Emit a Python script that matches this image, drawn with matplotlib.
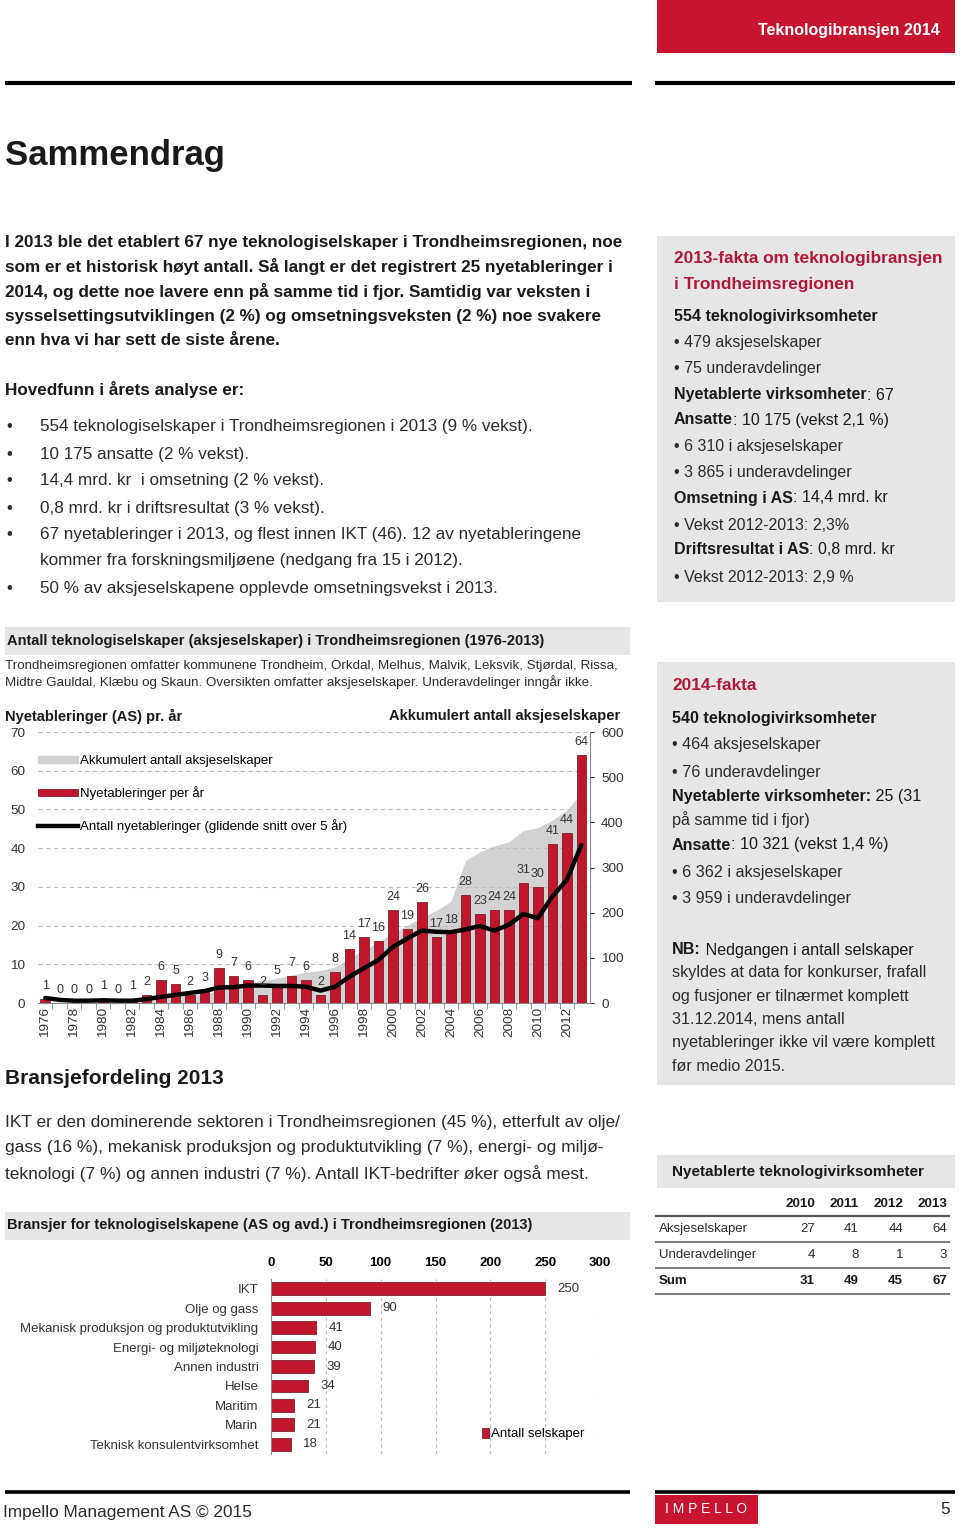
import matplotlib
matplotlib.use("Agg")
import matplotlib.pyplot as plt
from matplotlib.patches import Rectangle, Patch
from matplotlib.lines import Line2D

plt.rcParams["font.family"] = ["Liberation Sans", "DejaVu Sans"]

# --- data -------------------------------------------------------------
years = list(range(1976, 2014))
new_as = [1, 0, 0, 0, 1, 0, 1, 2, 6, 5, 2, 3, 9, 7, 6, 2, 5, 7, 6, 2,
          8, 14, 17, 16, 24, 19, 26, 17, 18, 28, 23, 24, 24, 31, 30, 41, 44, 64]
accumulated = [1, 1, 1, 1, 2, 2, 3, 5, 11, 15, 17, 20, 28, 38, 45, 50, 55, 62, 68, 72,
               80, 100, 117, 135, 155, 172, 190, 205, 225, 315, 335, 348, 357, 382, 388, 405, 427, 464]
moving_avg = [1.3, 0.8, 0.6, 0.6, 0.7, 0.6, 0.6, 1.0, 1.6, 2.1, 2.6, 3.1, 4.0, 4.1, 4.5, 4.5, 4.4, 4.4, 4.2, 3.2,
              4.2, 6.8, 9.0, 11.1, 14.5, 16.7, 18.7, 18.4, 18.3, 19.0, 19.9, 18.7, 20.2, 23.0, 21.9, 27.5, 31.8, 40.8]

sectors = ["IKT", "Olje og gass", "Mekanisk produksjon og produktutvikling",
           "Energi- og miljøteknologi", "Annen industri", "Helse", "Maritim", "Marin",
           "Teknisk konsulentvirksomhet"]
sector_counts = [250, 90, 41, 40, 39, 34, 21, 21, 18]

table_years = ["2010", "2011", "2012", "2013"]
table_rows = ["Aksjeselskaper", "Underavdelinger", "Sum"]
table_as = [27, 41, 44, 64]
table_avd = [4, 8, 1, 3]
table_sum = [31, 49, 45, 67]

W, H = 960, 1531
RED = "#c0172f"
HEAD_RED = "#c8142f"
TXT_RED = "#b0183a"
GREY_BOX = "#e6e6e6"
TXT = "#1a1a1a"
LIGHT = "#2b2b2b"

fig = plt.figure(figsize=(W / 100, H / 100), dpi=100)
bg = fig.add_axes([0, 0, 1, 1])
bg.set_xlim(0, W)
bg.set_ylim(H, 0)
bg.axis("off")
renderer = fig.canvas.get_renderer()


def box(x0, y0, x1, y1, color):
    bg.add_patch(Rectangle((x0, y0), x1 - x0, y1 - y0, color=color, lw=0, zorder=0))


def hline(x0, x1, y, lw, color="black"):
    bg.plot([x0, x1], [y, y], color=color, lw=lw, solid_capstyle="butt")


def text(x, y, s, size, bold=False, color=TXT, **kw):
    return bg.text(x, y, s, fontsize=size, fontweight="bold" if bold else "normal",
                   color=color, va="center", **kw)


def mixed(x, y, parts, size, color=TXT):
    # parts: (string, bold) pieces written one after another on a line
    for s, bold in parts:
        t = text(x, y, s, size, bold, color)
        x += t.get_window_extent(renderer=renderer).width


def px_axes(x0, y0, x1, y1):
    return fig.add_axes([x0 / W, 1 - y1 / H, (x1 - x0) / W, (y1 - y0) / H])


# --- page furniture ---------------------------------------------------
box(657, 0, 955, 53, HEAD_RED)
text(940, 31, "Teknologibransjen 2014", 11.5, True, "white", ha="right")
hline(5, 632, 83, 3)
hline(655, 955, 83, 3)

text(5, 155, "Sammendrag", 25, True)

intro = ["I 2013 ble det etablert 67 nye teknologiselskaper i Trondheimsregionen, noe",
         "som er et historisk høyt antall. Så langt er det registrert 25 nyetableringer i",
         "2014, og dette noe lavere enn på samme tid i fjor. Samtidig var veksten i",
         "sysselsettingsutviklingen (2 %) og omsetningsveksten (2 %) noe svakere",
         "enn hva vi har sett de siste årene."]
for i, s in enumerate(intro):
    text(5, 242 + i * 24.7, s, 12.3, True)

text(5, 389, "Hovedfunn i årets analyse er:", 12.3, True)
bullets = [(427, "554 teknologiselskaper i Trondheimsregionen i 2013 (9 % vekst).", True),
           (454, "10 175 ansatte (2 % vekst).", True),
           (481, "14,4 mrd. kr  i omsetning (2 % vekst).", True),
           (508, "0,8 mrd. kr i driftsresultat (3 % vekst).", True),
           (535, "67 nyetableringer i 2013, og flest innen IKT (46). 12 av nyetableringene", True),
           (561, "kommer fra forskningsmiljøene (nedgang fra 15 i 2012).", False),
           (588, "50 % av aksjeselskapene opplevde omsetningsvekst i 2013.", True)]
for y, s, dot in bullets:
    if dot:
        text(6, y, "•", 12, color=LIGHT)
    text(40, y, s, 12.35, color=LIGHT)

# 2013 facts box
box(657, 236, 955, 602, GREY_BOX)
text(674, 259, "2013-fakta om teknologibransjen", 12.4, True, TXT_RED)
text(674, 284, "i Trondheimsregionen", 12.4, True, TXT_RED)
fs = 11.5
text(674, 317, "554 teknologivirksomheter", fs, True)
text(674, 343, "• 479 aksjeselskaper", fs, color=LIGHT)
text(674, 369, "• 75 underavdelinger", fs, color=LIGHT)
mixed(674, 395, [("Nyetablerte virksomheter", True), (": 67", False)], fs)
mixed(674, 420, [("Ansatte", True), (": 10 175 (vekst 2,1 %)", False)], fs)
text(674, 447, "• 6 310 i aksjeselskaper", fs, color=LIGHT)
text(674, 473, "• 3 865 i underavdelinger", fs, color=LIGHT)
mixed(674, 498, [("Omsetning i AS", True), (": 14,4 mrd. kr", False)], fs)
text(674, 525, "• Vekst 2012-2013: 2,3%", fs, color=LIGHT)
mixed(674, 550, [("Driftsresultat i AS", True), (": 0,8 mrd. kr", False)], fs)
text(674, 577, "• Vekst 2012-2013: 2,9 %", fs, color=LIGHT)

# 2014 facts box
box(657, 662, 955, 1085, GREY_BOX)
text(672, 686, "2014-fakta", 12.4, True, TXT_RED)
fs = 11.6
text(672, 719, "540 teknologivirksomheter", fs, True)
text(672, 745, "• 464 aksjeselskaper", fs, color=LIGHT)
text(672, 772, "• 76 underavdelinger", fs, color=LIGHT)
mixed(672, 797, [("Nyetablerte virksomheter:", True), (" 25 (31", False)], fs)
text(672, 820, "på samme tid i fjor)", fs, color=LIGHT)
mixed(672, 845, [("Ansatte", True), (": 10 321 (vekst 1,4 %)", False)], fs)
text(672, 872, "• 6 362 i aksjeselskaper", fs, color=LIGHT)
text(672, 898, "• 3 959 i underavdelinger", fs, color=LIGHT)
mixed(672, 950, [("NB:", True), (" Nedgangen i antall selskaper", False)], fs)
nb = ["skyldes at data for konkurser, frafall", "og fusjoner er tilnærmet komplett",
      "31.12.2014, mens antall", "nyetableringer ikke vil være komplett", "før medio 2015."]
for i, s in enumerate(nb):
    text(672, 973 + i * 23.3, s, fs, color=LIGHT)

# chart 1 header
box(5, 627, 630, 655, GREY_BOX)
text(7, 641, "Antall teknologiselskaper (aksjeselskaper) i Trondheimsregionen (1976-2013)", 10.5, True)
text(5, 666, "Trondheimsregionen omfatter kommunene Trondheim, Orkdal, Melhus, Malvik, Leksvik, Stjørdal, Rissa,", 9.65, color=LIGHT)
text(5, 682, "Midtre Gauldal, Klæbu og Skaun. Oversikten omfatter aksjeselskaper. Underavdelinger inngår ikke.", 9.65, color=LIGHT)
text(5, 716, "Nyetableringer (AS) pr. år", 10.5, True)
text(620, 716, "Akkumulert antall aksjeselskaper", 10.5, True, ha="right")

# --- chart 1 ----------------------------------------------------------
ax = px_axes(38, 732, 590, 1003)
ax2 = ax.twinx()
ax.set_zorder(ax2.get_zorder() + 1)
ax.patch.set_visible(False)

ax2.fill_between(years, accumulated, color="#d2d2d2", lw=0)
ax2.set_ylim(0, 600)
ax2.set_yticks(range(0, 601, 100))
ax2.tick_params(axis="y", length=3, pad=5, labelsize=9.7, colors="#333333")
for side in ["top", "left", "bottom"]:
    ax2.spines[side].set_visible(False)
ax2.spines["right"].set_color("#8a8a8a")

ax.bar(years, new_as, width=0.66, color=RED, edgecolor="#6a0c18", lw=0.5)
ax.plot(years, moving_avg, color="black", lw=3.2, solid_joinstyle="round", solid_capstyle="round")
for yr, v in zip(years, new_as):
    ax.annotate(str(v), (yr, v), xytext=(0, 5), textcoords="offset points",
                ha="center", va="bottom", fontsize=9, color="#333333")

ax.set_xlim(1975.5, 2013.6)
ax.set_ylim(0, 70)
ax.set_yticks(range(0, 71, 10))
ax.yaxis.grid(True, ls=(0, (4, 3)), color="#bdbdbd", lw=0.8)
ax.set_axisbelow(True)
ax.tick_params(axis="y", length=0, pad=9, labelsize=9.7, labelcolor="#333333")
ax.set_xticks(years[::2])
ax.set_xticklabels([str(y) for y in years[::2]], rotation=90)
ax.set_xticks([y + 0.5 for y in years[:-1]], minor=True)
ax.tick_params(axis="x", which="major", length=0, pad=3, labelsize=9.7, labelcolor="#333333")
ax.tick_params(axis="x", which="minor", length=4, color="#8a8a8a")
for side in ["top", "left", "right"]:
    ax.spines[side].set_visible(False)
ax.spines["bottom"].set_color("#8a8a8a")

handles = [Patch(color="#d2d2d2"), Patch(facecolor=RED, edgecolor="#6a0c18", lw=0.5),
           Line2D([], [], color="black", lw=3.2)]
labels = ["Akkumulert antall aksjeselskaper", "Nyetableringer per år",
          "Antall nyetableringer (glidende snitt over 5 år)"]
ax.legend(handles, labels, loc="upper left", bbox_to_anchor=(0, 0.915), frameon=False,
          fontsize=9.5, handlelength=3.0, handleheight=0.5, handletextpad=0.15,
          labelspacing=1.45, borderpad=0, borderaxespad=0)

# --- section 2 text ---------------------------------------------------
text(5, 1078, "Bransjefordeling 2013", 15, True)
para = ["IKT er den dominerende sektoren i Trondheimsregionen (45 %), etterfult av olje/",
        "gass (16 %), mekanisk produksjon og produktutvikling (7 %), energi- og miljø-",
        "teknologi (7 %) og annen industri (7 %). Antall IKT-bedrifter øker også mest."]
for i, s in enumerate(para):
    text(5, 1122 + i * 25.7, s, 12.55, color=LIGHT)

# new companies table
box(657, 1155, 955, 1188, GREY_BOX)
text(672, 1172, "Nyetablerte teknologivirksomheter", 11, True)
col_x = [815, 859, 903, 947]
for x, yr in zip(col_x, table_years):
    text(x, 1204, yr, 9.7, True, ha="right")
hline(655, 950, 1216, 1.6, "#555555")
row_y = [1229, 1255, 1281]
for y, name, vals in zip(row_y, table_rows, [table_as, table_avd, table_sum]):
    bold = name == "Sum"
    text(659, y, name, 9.5, bold, color=TXT if bold else LIGHT)
    for x, v in zip(col_x, vals):
        text(x, y, str(v), 9.5, bold, color=TXT if bold else LIGHT, ha="right")
    hline(655, 950, y + 12.5, 1.2, "#666666")

# chart 2 header
box(5, 1212, 630, 1240, GREY_BOX)
text(7, 1225, "Bransjer for teknologiselskapene (AS og avd.) i Trondheimsregionen (2013)", 10.5, True)

# --- chart 2 ----------------------------------------------------------
ax3 = px_axes(271, 1279, 600, 1454)
ax3.patch.set_visible(False)
pos = list(range(len(sectors)))
ax3.barh(pos, sector_counts, height=0.66, color=RED, edgecolor="#6a0c18", lw=0.5)
for p, v in zip(pos, sector_counts):
    ax3.annotate(str(v), (v, p), xytext=(9, 0), textcoords="offset points",
                 ha="left", va="center", fontsize=9.5, color="#333333")
ax3.set_xlim(0, 300)
ax3.set_ylim(len(sectors) - 0.5, -0.5)
ax3.set_xticks(range(0, 301, 50))
ax3.xaxis.tick_top()
ax3.tick_params(axis="x", length=0, pad=7, labelsize=9.5)
for lab in ax3.get_xticklabels():
    lab.set_fontweight("bold")
ax3.set_yticks(pos)
ax3.set_yticklabels(sectors)
ax3.tick_params(axis="y", length=0, pad=9, labelsize=9.5, labelcolor="#333333")
ax3.xaxis.grid(True, ls=(0, (3, 3)), color="#bdbdbd", lw=0.8)
ax3.set_axisbelow(True)
for side in ["top", "right", "bottom"]:
    ax3.spines[side].set_visible(False)
ax3.spines["left"].set_color("#8a8a8a")
ax3.legend([Patch(facecolor=RED, edgecolor="#6a0c18", lw=0.5)], ["Antall selskaper"],
           loc="lower left", bbox_to_anchor=(0.62, 0.04), frameon=False, fontsize=9.5,
           handlelength=0.6, handleheight=0.8, handletextpad=0.15, borderpad=0)

# --- footer -----------------------------------------------------------
hline(5, 630, 1492, 2.6)
hline(655, 955, 1492, 2.6)
text(3, 1512, "Impello Management AS © 2015", 12.4, color=LIGHT)
box(655, 1495, 758, 1524, HEAD_RED)
text(706, 1509, "I M P E L L O", 10, False, "white", ha="center")
text(950, 1510, "5", 12.4, color=LIGHT, ha="right")

fig.savefig("out.png", dpi=100)
